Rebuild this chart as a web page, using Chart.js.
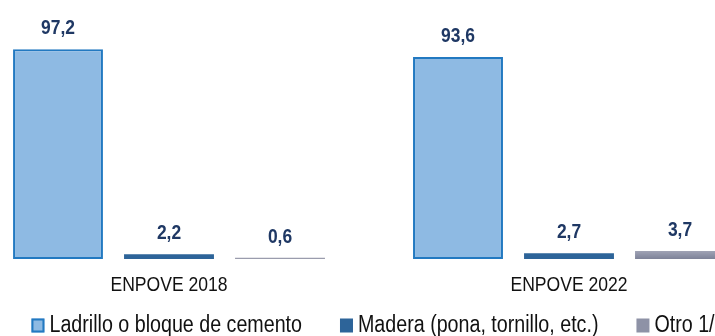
<!DOCTYPE html>
<html lang="es">
<head>
<meta charset="utf-8">
<title>Material de las paredes</title>
<script src="https://cdn.jsdelivr.net/npm/chart.js@4.4.1/dist/chart.umd.min.js"></script>
<style>
  html, body { margin: 0; padding: 0; background: #fff; overflow: hidden; }
  body { width: 715px; height: 336px; position: relative; }
  #wrap { position: absolute; left: -31px; top: 0; width: 800px; height: 336px; }
</style>
</head>
<body>
<div id="wrap"><canvas id="wallChart"></canvas></div>
<script>
const SURVEYS = ["ENPOVE 2018", "ENPOVE 2022"];

const LADRILLO = [97.2, 93.6];
const MADERA = [2.2, 2.7];
const OTRO = [0.6, 3.7];

const SERIES_NAMES = [
  "Ladrillo o bloque de cemento",
  "Madera (pona, tornillo, etc.)",
  "Otro 1/"
];

const FONT = "'Liberation Sans', Arial, sans-serif";
const LABEL_COLOR = "#1f3864";

// no narrow face installed, so squeeze the regular one sideways
function narrowText(ctx, text, x, y, squeeze) {
  ctx.save();
  ctx.translate(x, y);
  ctx.scale(squeeze, 1);
  ctx.fillText(text, 0, 0);
  ctx.restore();
}

// gray bars fade a little from top to bottom
function grayFill(ctx) {
  const chart = ctx.chart;
  const y = chart.scales.y;
  if (!y || ctx.raw == null) return "#8e92a6";
  const top = y.getPixelForValue(ctx.raw);
  const bottom = y.getPixelForValue(0);
  if (!(bottom - top > 2)) return "#9a9cad";
  const g = chart.ctx.createLinearGradient(0, top, 0, bottom);
  g.addColorStop(0, "#a0a3b5");
  g.addColorStop(1, "#7d8298");
  return g;
}

// numbers above each bar (comma decimals) and the survey names under each group
const barText = {
  id: "barText",
  afterDatasetsDraw(chart) {
    const ctx = chart.ctx;
    ctx.save();
    ctx.textAlign = "center";
    ctx.textBaseline = "alphabetic";

    ctx.font = "bold 21px " + FONT;
    ctx.fillStyle = LABEL_COLOR;
    chart.data.datasets.forEach((ds, i) => {
      chart.getDatasetMeta(i).data.forEach((bar, j) => {
        const txt = ds.data[j].toFixed(1).replace(".", ",");
        narrowText(ctx, txt, bar.x, bar.y - 15, 0.83);
      });
    });

    const x = chart.scales.x;
    ctx.font = "19.5px " + FONT;
    ctx.fillStyle = "#111";
    chart.data.labels.forEach((lab, i) => {
      narrowText(ctx, lab, x.getPixelForTick(i), chart.chartArea.bottom + 32, 0.9);
    });
    ctx.restore();
  }
};

// legend row along the bottom
const bottomLegend = {
  id: "bottomLegend",
  afterDraw(chart) {
    const ctx = chart.ctx;
    const box = 13, gap = 5, spacing = 38, squeeze = 0.855;
    ctx.save();
    ctx.font = "23px " + FONT;
    ctx.textBaseline = "alphabetic";
    ctx.textAlign = "left";
    const items = chart.data.datasets.map(ds => ({
      ds, tw: ctx.measureText(ds.label).width * squeeze
    }));
    const total = items.reduce((s, it) => s + box + gap + it.tw, 0) + spacing * (items.length - 1);
    let x = (chart.width - total) / 2 + 4;
    const base = 331.5;
    items.forEach(({ ds, tw }) => {
      ctx.fillStyle = ds.legendColor || ds.backgroundColor;
      ctx.fillRect(x, base - 13, box, box + 1);
      if (ds.borderWidth) {
        ctx.strokeStyle = ds.borderColor;
        ctx.lineWidth = 2;
        ctx.strokeRect(x + 1, base - 12, box - 2, box - 1);
      }
      ctx.fillStyle = "#111";
      narrowText(ctx, ds.label, x + box + gap, base, squeeze);
      x += box + gap + tw + spacing;
    });
    ctx.restore();
  }
};

new Chart(document.getElementById("wallChart"), {
  type: "bar",
  data: {
    labels: SURVEYS,
    datasets: [
      {
        label: SERIES_NAMES[0],
        data: LADRILLO,
        backgroundColor: "#8ebae3",
        borderColor: "#2279c1",
        borderWidth: 2,
        borderSkipped: false
      },
      {
        label: SERIES_NAMES[1],
        data: MADERA,
        backgroundColor: "#2d6499",
        borderWidth: 0
      },
      {
        label: SERIES_NAMES[2],
        data: OTRO,
        backgroundColor: grayFill,
        legendColor: "#8e92a6",
        borderWidth: 0
      }
    ]
  },
  options: {
    responsive: true,
    maintainAspectRatio: false,
    animation: false,
    categoryPercentage: 0.8325,
    barPercentage: 0.81,
    layout: { padding: { top: 0, left: 0, right: 0, bottom: 77 } },
    plugins: {
      legend: { display: false },
      tooltip: { enabled: false }
    },
    scales: {
      x: {
        grid: { display: false, drawTicks: false },
        border: { display: false },
        ticks: { display: false }
      },
      y: {
        display: false,
        min: 0,
        max: 120
      }
    }
  },
  plugins: [barText, bottomLegend]
});
</script>
</body>
</html>
